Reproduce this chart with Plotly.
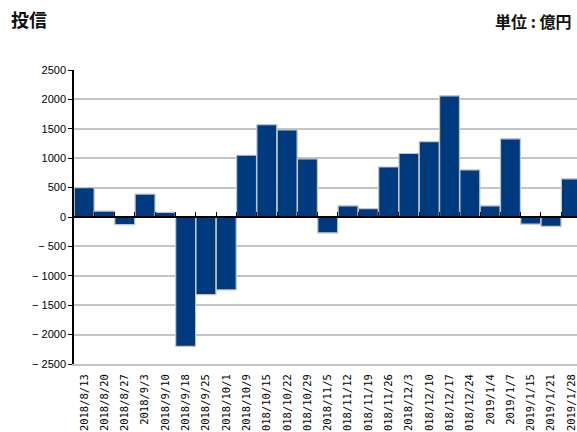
import plotly.graph_objects as go

# Weekly net flows (億円)
weeks = [
    "2018/8/13", "2018/8/20", "2018/8/27", "2018/9/3", "2018/9/10",
    "2018/9/18", "2018/9/25", "2018/10/1", "2018/10/9", "2018/10/15",
    "2018/10/22", "2018/10/29", "2018/11/5", "2018/11/12", "2018/11/19",
    "2018/11/26", "2018/12/3", "2018/12/10", "2018/12/17", "2018/12/24",
    "2019/1/4", "2019/1/7", "2019/1/15", "2019/1/21", "2019/1/28",
]
flows = [
    500, 100, -130, 390, 80,
    -2200, -1320, -1240, 1050, 1570,
    1480, 990, -270, 190, 140,
    850, 1080, 1280, 2060, 800,
    190, 1330, -120, -160, 650,
]
y_ticks = [-2500, -2000, -1500, -1000, -500, 0, 500, 1000, 1500, 2000, 2500]

W, H = 577, 432
M_L, M_R, M_T, M_B = 74, 0, 70, 68
cat_px = 20.3
x_lo = -0.5
x_hi = x_lo + (W - M_L - M_R) / cat_px
plot_h = H - M_T - M_B
head_y = (H - M_B - 21) / plot_h  # header line, in paper units

idx = list(range(len(weeks)))

fig = go.Figure()
fig.add_trace(go.Bar(
    x=idx, y=flows,
    marker=dict(color="#003a7e", line=dict(color="#c4c4c4", width=1.2)),
    hoverinfo="skip",
))

fig.update_layout(
    width=W, height=H,
    margin=dict(l=M_L, r=M_R, t=M_T, b=M_B, pad=0),
    paper_bgcolor="white", plot_bgcolor="white",
    showlegend=False, bargap=0.02,
    title=dict(text="投信", x=11 / W, xanchor="left", xref="container",
               y=1 - 21 / H, yanchor="middle", yref="container",
               font=dict(family="Noto Sans CJK JP", size=18, weight=600, color="#111111")),
    annotations=[dict(
        text="単位 : 億円", xref="paper", yref="paper",
        x=(573 - M_L) / (W - M_L - M_R), xanchor="right",
        y=head_y, yanchor="middle", showarrow=False,
        font=dict(family="Noto Sans CJK JP", size=16, weight=600, color="#111111"),
    )],
    xaxis=dict(
        range=[x_lo, x_hi], tickmode="array", tickvals=idx, ticktext=weeks,
        tickangle=-90, tickfont=dict(family="DejaVu Sans Mono", size=10.5, color="#000000"),
        ticks="", showgrid=False, zeroline=False,
        showline=True, linecolor="#c4c4c4", linewidth=2, automargin=False,
        ticklabelstandoff=4,
    ),
    xaxis2=dict(
        range=[x_lo, x_hi], overlaying="x", anchor="free", position=0.5,
        side="bottom", tickmode="array", tickvals=[i + 0.5 for i in idx],
        ticks="inside", ticklen=4, tickwidth=1.2, tickcolor="#000000",
        showticklabels=False, showgrid=False, zeroline=False,
        showline=True, linecolor="#000000", linewidth=1.5,
    ),
    yaxis=dict(
        range=[-2500, 2500], tickmode="array", tickvals=y_ticks,
        ticktext=[f"\u2212 {abs(v)}" if v < 0 else f"{v}" for v in y_ticks],
        tickfont=dict(family="Liberation Sans", size=11, color="#000000"),
        ticks="outside", ticklen=4, tickwidth=1.2, tickcolor="#000000",
        showgrid=True, gridcolor="#c4c4c4", gridwidth=1.5, zeroline=False,
        showline=True, linecolor="#000000", linewidth=1.5, automargin=False,
    ),
)

# invisible trace so the zero-line axis is rendered
fig.add_trace(go.Scatter(x=[x_lo], y=[0], xaxis="x2", mode="markers",
                         marker=dict(opacity=0), hoverinfo="skip"))

fig.write_html("out.html")
